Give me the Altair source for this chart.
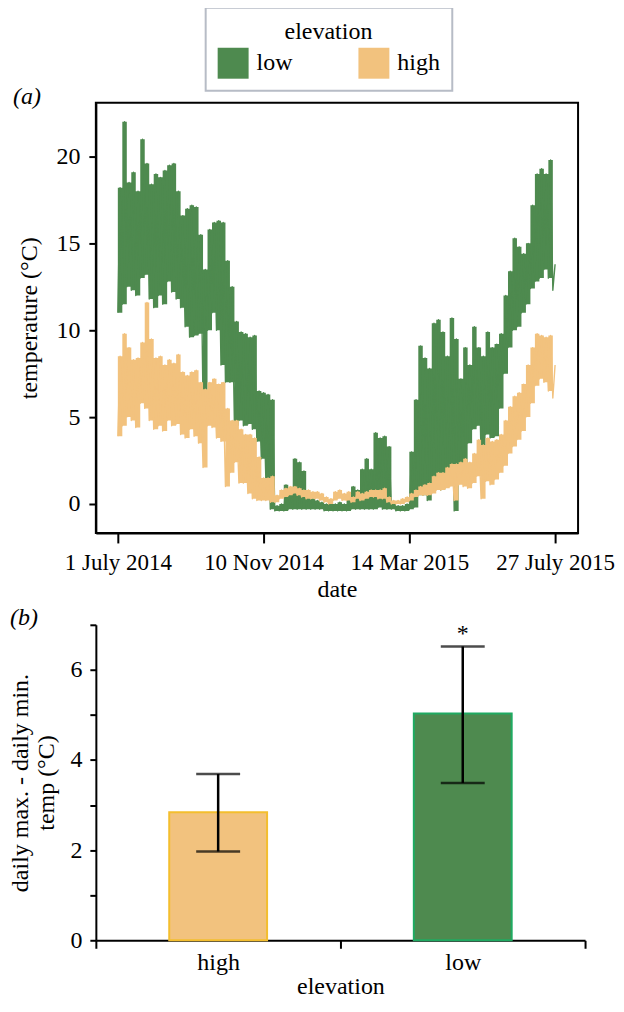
import altair as alt
import pandas as pd

FONT = "Liberation Serif"
FS = 24
GREEN = "#4E8A4F"
TAN = "#F2C27E"

# ---------------- panel (a): temperature record ----------------
# values read per 4-day window (day 0 = 1 July 2014): window minimum and maximum (°C)
window_days = 4
low_min = [11.0, 11.5, 12.5, 12.3, 12.0, 13.0, 13.2, 11.8, 11.3, 12.0,
           11.5, 12.8, 12.2, 11.8, 11.3, 10.2, 9.6, 9.7, 9.8, 5.8,
           10.0, 11.0, 10.0, 8.0, 7.0, 7.0, 4.5, 4.8, 4.5, 4.6,
           4.3, 3.6, 2.6, 1.5, -0.3, -0.4, -0.4, -0.4, -0.3, -0.3,
           -0.3, -0.3, -0.3, -0.3, -0.3, -0.3, -0.4, -0.4, -0.4, -0.4,
           -0.4, -0.4, -0.3, -0.3, -0.3, -0.3, -0.3, -0.3, -0.2, -0.3,
           -0.3, -0.3, -0.4, -0.4, -0.4, -0.3, -0.2, 0.5, 0.5, 0.2,
           1.2, 1.0, 0.8, 1.5, 1.3, -0.4, 1.5, 2.0, 3.5, 4.3,
           4.5, 2.6, 4.0, 3.8, 3.9, 5.5, 7.5, 9.0, 10.0, 10.2,
           11.0, 11.5, 12.4, 12.8, 13.0, 13.5, 13.0, 12.3]
low_max = [18.2, 22.0, 18.5, 19.1, 18.0, 21.0, 19.6, 18.4, 19.0, 18.8,
           19.2, 19.5, 19.6, 18.0, 16.6, 17.0, 17.2, 17.1, 15.5, 13.5,
           15.8, 16.2, 16.3, 16.2, 14.0, 12.5, 10.5, 9.9, 9.8, 9.6,
           9.7, 6.5, 6.4, 6.3, 6.0, -0.1, 0.0, 1.1, 0.6, 2.6,
           2.4, 1.9, 0.6, 0.3, 0.2, 0.1, 0.0, 0.1, 0.0, 0.1,
           0.0, 0.3, 1.0, 0.8, 2.0, 2.6, 2.0, 4.1, 3.8, 3.9,
           3.3, 0.0, -0.1, -0.1, 0.0, 3.0, 6.0, 9.1, 8.4, 7.8,
           10.4, 10.6, 9.9, 8.5, 10.7, 9.5, 7.2, 9.0, 8.0, 10.2,
           9.0, 8.5, 9.9, 9.0, 9.2, 9.8, 12.0, 13.4, 15.3, 14.8,
           14.4, 15.0, 17.2, 19.0, 19.3, 19.0, 19.8, 13.8]
high_min = [3.9, 4.5, 5.0, 4.8, 4.4, 5.8, 5.5, 4.8, 4.3, 4.5,
            4.2, 4.8, 4.5, 4.6, 4.0, 3.8, 4.3, 3.9, 3.5, 2.1,
            4.5, 4.4, 3.8, 3.6, 1.0, 1.8, 2.4, 1.2, 1.2, 0.6,
            0.3, 0.2, 0.2, 0.2, 0.1, 0.1, 0.3, 0.4, 0.5, 0.6,
            0.5, 0.4, 0.3, 0.3, 0.3, 0.2, 0.1, 0.0, 0.2, 0.3,
            0.2, 0.2, 0.1, 0.3, 0.2, 0.3, 0.4, 0.4, 0.3, 0.3,
            0.1, 0.0, 0.0, 0.0, 0.1, 0.2, 0.4, 0.5, 0.5, 0.5,
            0.6, 0.8, 0.8, 0.9, 1.0, 0.2, 1.1, 1.0, 0.9, 1.2,
            1.6, 0.3, 1.3, 1.1, 1.4, 1.8, 2.2, 2.9, 3.3, 3.7,
            4.2, 5.0, 5.8, 6.8, 7.2, 7.0, 6.5, 6.1]
high_max = [8.5, 9.8, 9.0, 8.3, 8.4, 9.3, 11.6, 9.5, 8.4, 8.5,
            8.0, 8.3, 8.1, 8.6, 7.6, 7.4, 7.6, 7.7, 7.0, 6.6,
            7.0, 7.2, 6.9, 7.0, 5.5, 4.8, 4.8, 4.3, 4.0, 4.0,
            3.8, 2.7, 1.5, 1.5, 1.6, 0.5, 0.8, 0.9, 1.0, 1.0,
            0.9, 0.8, 0.8, 0.7, 0.7, 0.6, 0.4, 0.3, 0.7, 0.8,
            0.6, 0.7, 0.4, 0.7, 0.6, 0.7, 0.8, 0.8, 0.8, 0.9,
            0.4, 0.2, 0.2, 0.3, 0.4, 0.6, 0.8, 1.0, 1.1, 1.2,
            1.6, 1.8, 1.8, 2.1, 2.3, 2.3, 2.4, 2.6, 2.4, 2.9,
            3.7, 3.4, 3.8, 3.6, 3.7, 4.0, 4.8, 5.6, 6.2, 6.4,
            6.9, 8.0, 9.0, 9.8, 9.7, 9.6, 9.7, 8.0]

elevations = ["low", "high"]
elev_colors = [GREEN, TAN]
date_ticks = [0, 130, 260, 390]
date_labels = ["1 July 2014", "10 Nov 2014", "14 Mar 2015", "27 July 2015"]
panel_tags = ["(a)", "(b)"]

rows, env = [], []
for name, mins, maxs in (("low", low_min, low_max), ("high", high_min, high_max)):
    for i, (lo, hi) in enumerate(zip(mins, maxs)):
        rows.append({"day": i * window_days, "temp": lo, "elevation": name})
        rows.append({"day": i * window_days + window_days // 2, "temp": hi, "elevation": name})
        env.append({"day": i * window_days, "tmin": lo, "tmax": hi, "elevation": name})
df_a = pd.DataFrame(rows)
df_env = pd.DataFrame(env)
df_leg = pd.DataFrame({"elevation": elevations})

# ---------------- panel (b): daily range ----------------
bar_cats = ["high", "low"]
bar_values = [2.84, 5.03]
err_lower = [1.97, 3.49]
err_upper = [3.69, 6.52]
sig_marks = ["", "*"]
bar_fills = [TAN, GREEN]
bar_strokes = ["#F4BE2E", "#1FAA62"]

df_b = pd.DataFrame({"elevation": bar_cats, "range": bar_values,
                     "lo": err_lower, "hi": err_upper, "sig": sig_marks})

label_expr = " : ".join(f"datum.value == {v} ? '{l}'" for v, l in zip(date_ticks, date_labels)) + " : ''"

scale_xa = alt.Scale(domain=[-19.6, 410.5], nice=False, zero=False)
scale_ya = alt.Scale(domain=[-1.67, 23.1], nice=False, zero=False)
axis_xa = alt.Axis(values=date_ticks, labelExpr=label_expr, title="date",
                   tickSize=10, labelPadding=9, titlePadding=3, labelFontSize=23,
                   labelFlush=False, labelOverlap=False)
axis_ya = alt.Axis(values=[0, 5, 10, 15, 20], title="temperature (°C)",
                   tickSize=7, labelPadding=9, titlePadding=14)
x_a = alt.X("day:Q", scale=scale_xa, axis=axis_xa)
y_a = alt.Y("temp:Q", scale=scale_ya, axis=axis_ya)


def series_layers(name, color):
    band = alt.Chart(df_env).transform_filter(alt.datum.elevation == name).mark_area(
        color=color, opacity=1, interpolate="step-after").encode(
        x=alt.X("day:Q", scale=scale_xa, axis=axis_xa),
        y=alt.Y("tmin:Q", scale=scale_ya, axis=axis_ya), y2="tmax:Q")
    line = alt.Chart(df_a).transform_filter(alt.datum.elevation == name).mark_line(
        color=color, strokeWidth=1.4, strokeJoin="round").encode(x=x_a, y=y_a)
    return [band, line]


legend_layer = alt.Chart(df_leg).mark_square(opacity=0).encode(
    x=alt.value(0), y=alt.value(0),
    fill=alt.Fill("elevation:N", sort=elevations,
                  scale=alt.Scale(domain=elevations, range=elev_colors),
                  legend=alt.Legend(title="elevation", orient="none", legendX=110, legendY=-95,
                                    direction="horizontal", symbolType="square",
                                    symbolSize=961, symbolOpacity=1, symbolStrokeWidth=0,
                                    labelOffset=8, columnPadding=66, padding=12,
                                    titleAnchor="middle", titlePadding=4,
                                    strokeColor="#B7BCC6", fillColor="white")))

tag_a = alt.Chart(pd.DataFrame({"tag": [panel_tags[0]]})).mark_text(
    font=FONT, fontSize=FS, fontStyle="italic", align="left", baseline="middle",
    color="black").encode(x=alt.value(-83), y=alt.value(-6), text="tag:N")

panel_a = alt.layer(*series_layers("low", GREEN), *series_layers("high", TAN),
                    legend_layer, tag_a).properties(
    width=483, height=431,
    view=alt.ViewBackground(stroke="black", strokeWidth=2))

scale_b = alt.Scale(domain=[0, 7], nice=False)
axis_b = alt.Axis(values=[0, 1, 2, 3, 4, 5, 6, 7],
                  labelExpr="datum.value % 2 == 0 ? datum.label : ''",
                  title=["daily max. - daily min.", "temp (°C)"],
                  tickSize=6, labelPadding=8, titlePadding=11, titleLineHeight=26)
x_b = alt.X("elevation:N", sort=bar_cats,
            scale=alt.Scale(paddingInner=0, paddingOuter=0),
            axis=alt.Axis(title="elevation", labelAngle=0, tickBand="extent",
                          tickSize=8, labelPadding=2, titlePadding=0))

bars = alt.Chart(df_b).mark_bar(width=alt.RelativeBandSize(0.4), strokeWidth=2).encode(
    x=x_b, y=alt.Y("range:Q", scale=scale_b, axis=axis_b),
    fill=alt.Fill("elevation:N", scale=alt.Scale(domain=bar_cats, range=bar_fills), legend=None),
    stroke=alt.Stroke("elevation:N", scale=alt.Scale(domain=bar_cats, range=bar_strokes), legend=None))
err_rule = alt.Chart(df_b).mark_rule(color="black", strokeWidth=2.5).encode(
    x=x_b, y=alt.Y("lo:Q", scale=scale_b, axis=axis_b), y2="hi:Q")
cap_lo = alt.Chart(df_b).mark_tick(color="black", thickness=2.5, size=44).encode(
    x=x_b, y=alt.Y("lo:Q", scale=scale_b, axis=axis_b))
cap_hi = alt.Chart(df_b).mark_tick(color="black", thickness=2.5, size=44).encode(
    x=x_b, y=alt.Y("hi:Q", scale=scale_b, axis=axis_b))
star = alt.Chart(df_b).mark_text(font=FONT, fontSize=24, dy=-12, color="black").encode(
    x=x_b, y=alt.Y("hi:Q", scale=scale_b, axis=axis_b),
    text="sig:N")
tag_b = alt.Chart(pd.DataFrame({"tag": [panel_tags[1]]})).mark_text(
    font=FONT, fontSize=FS, fontStyle="italic", align="left", baseline="middle",
    color="black").encode(x=alt.value(-86), y=alt.value(-7), text="tag:N")

panel_b = alt.layer(bars, err_rule, cap_lo, cap_hi, star, tag_b).properties(
    width=490, height=316,
    view=alt.ViewBackground(stroke="transparent"))

chart = alt.vconcat(panel_a, panel_b, spacing=92, bounds="flush").resolve_scale(
    fill="independent", stroke="independent").resolve_legend(
    fill="independent", stroke="independent").properties(
    padding={"left": 0, "top": -3, "right": 0, "bottom": 0}
).configure_axis(
    labelFont=FONT, titleFont=FONT, labelFontSize=FS, titleFontSize=FS,
    titleFontWeight="normal", labelColor="black", titleColor="black",
    grid=False, domainColor="black", tickColor="black", domainWidth=2, tickWidth=2
).configure_legend(
    labelFont=FONT, titleFont=FONT, labelFontSize=FS, titleFontSize=FS,
    titleFontWeight="normal", labelColor="black", titleColor="black", strokeWidth=2
)

chart.save("out.html", embed_options={"renderer": "svg", "actions": False})
